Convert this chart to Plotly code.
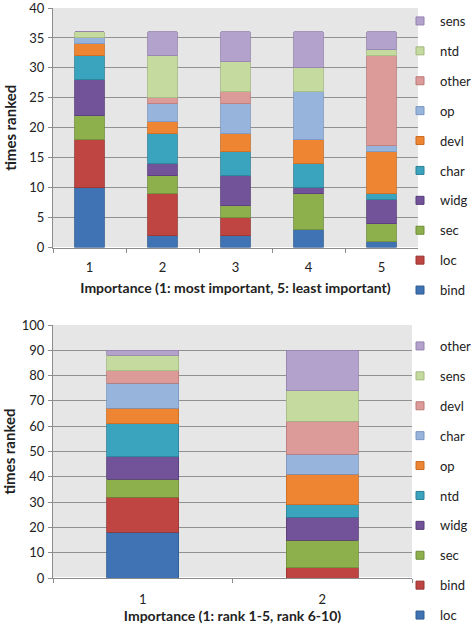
import plotly.graph_objects as go

# ---- top chart data ----
top_categories = ["1", "2", "3", "4", "5"]
top_series = ["bind", "loc", "sec", "widg", "char", "devl", "op", "other", "ntd", "sens"]
bind_t = [10, 2, 2, 3, 1]
loc_t = [8, 7, 3, 0, 0]
sec_t = [4, 3, 2, 6, 3]
widg_t = [6, 2, 5, 1, 4]
char_t = [4, 5, 4, 4, 1]
devl_t = [2, 2, 3, 4, 7]
op_t = [1, 3, 5, 8, 1]
other_t = [0, 1, 2, 0, 15]
ntd_t = [1, 7, 5, 4, 1]
sens_t = [0, 4, 5, 6, 3]
top_values = [bind_t, loc_t, sec_t, widg_t, char_t, devl_t, op_t, other_t, ntd_t, sens_t]

# ---- bottom chart data ----
bot_categories = ["1", "2"]
bot_series = ["loc", "bind", "sec", "widg", "ntd", "op", "char", "devl", "sens", "other"]
loc_b = [18, 0]
bind_b = [14, 4]
sec_b = [7, 11]
widg_b = [9, 9]
ntd_b = [13, 5]
op_b = [6, 12]
char_b = [10, 8]
devl_b = [5, 13]
sens_b = [6, 12]
other_b = [2, 16]
bot_values = [loc_b, bind_b, sec_b, widg_b, ntd_b, op_b, char_b, devl_b, sens_b, other_b]

top_ticks = [0, 5, 10, 15, 20, 25, 30, 35, 40]
bot_ticks = [0, 10, 20, 30, 40, 50, 60, 70, 80, 90, 100]

colors = ["#3F73B4", "#BE4541", "#8DB04D", "#72539A", "#3AA3BE",
          "#EE8533", "#97B4DC", "#DC9A99", "#C5DA9E", "#B3A2CC"]
lines = ["#2F5A90", "#963532", "#6E8C3A", "#563C78", "#2A8096",
         "#C86A20", "#7A96BE", "#B87A79", "#A3B87E", "#9482AE"]

FONT = "Lato"
fig = go.Figure()


def add_chart(cats, series, values, xa, ya, leg, prefix):
    for i, (name, vals) in enumerate(zip(series, values)):
        fig.add_trace(go.Bar(
            x=cats, y=vals, name=name, xaxis=xa, yaxis=ya,
            marker=dict(color=colors[i], line=dict(color=lines[i], width=0.8)),
            width=0.4, showlegend=False,
        ))
    # legend entries with small square swatches
    for i, name in enumerate(series):
        fig.add_trace(go.Scatter(
            x=[None], y=[None], name=name, xaxis=xa, yaxis=ya, mode="markers",
            marker=dict(symbol="square", size=8, color=colors[i],
                        line=dict(color=lines[i], width=1)),
            legend=leg, legendgroup=prefix + name, legendrank=100 - i,
            hoverinfo="skip",
        ))


add_chart(top_categories, top_series, top_values, "x", "y", "legend", "t")
add_chart(bot_categories, bot_series, bot_values, "x2", "y2", "legend2", "b")

W, H = 472, 629


def px_x(p):
    return p / W


def px_y(p):
    return 1 - p / H


axis_common = dict(
    showline=True, linecolor="#8C8C8C", linewidth=1,
    ticks="outside", ticklen=4, tickcolor="#8C8C8C",
    tickfont=dict(family=FONT, size=13, color="#222"),
    automargin=False, ticklabeloverflow="allow",
)

legend_common = dict(
    font=dict(family=FONT, size=13, color="#222"),
    traceorder="grouped", tracegroupgap=10,
    bgcolor="rgba(0,0,0,0)", itemwidth=30,
    xanchor="left", yanchor="top",
)

fig.update_layout(
    width=W, height=H,
    margin=dict(l=0, r=0, t=0, b=0, autoexpand=False),
    paper_bgcolor="white",
    plot_bgcolor="#E6E6E6",
    barmode="stack",
    xaxis=dict(domain=[px_x(53), px_x(418)], anchor="y",
               tickson="boundaries", type="category", ticklabelstandoff=8,
               title=dict(text="<b>Importance (1: most important, 5: least important)</b>",
                          font=dict(family=FONT, size=14, color="#222"), standoff=9),
               **axis_common),
    yaxis=dict(domain=[px_y(247.5), px_y(8)], anchor="x",
               range=[0, 40], tickvals=top_ticks, ticklabelstandoff=1,
               showgrid=True, gridcolor="#919191", gridwidth=1.2,
               title=dict(text="<b>times ranked</b>",
                          font=dict(family=FONT, size=15, color="#222"), standoff=9),
               **axis_common),
    xaxis2=dict(domain=[px_x(53), px_x(412)], anchor="y2",
                tickson="boundaries", type="category", ticklabelstandoff=9,
                title=dict(text="<b>Importance (1: rank 1-5, rank 6-10)</b>",
                           font=dict(family=FONT, size=14, color="#222"), standoff=0),
                **axis_common),
    yaxis2=dict(domain=[px_y(578), px_y(325)], anchor="x2",
                range=[0, 100], tickvals=bot_ticks, ticklabelstandoff=1,
                showgrid=True, gridcolor="#919191", gridwidth=1.2,
                title=dict(text="<b>times ranked</b>",
                           font=dict(family=FONT, size=15, color="#222"), standoff=9),
                **axis_common),
    legend=dict(x=px_x(400), y=px_y(6), **legend_common),
    legend2=dict(x=px_x(400), y=px_y(331), **legend_common),
)

fig.write_html("out.html", config={"displayModeBar": False},
               post_script="document.body.style.margin='0px';")
